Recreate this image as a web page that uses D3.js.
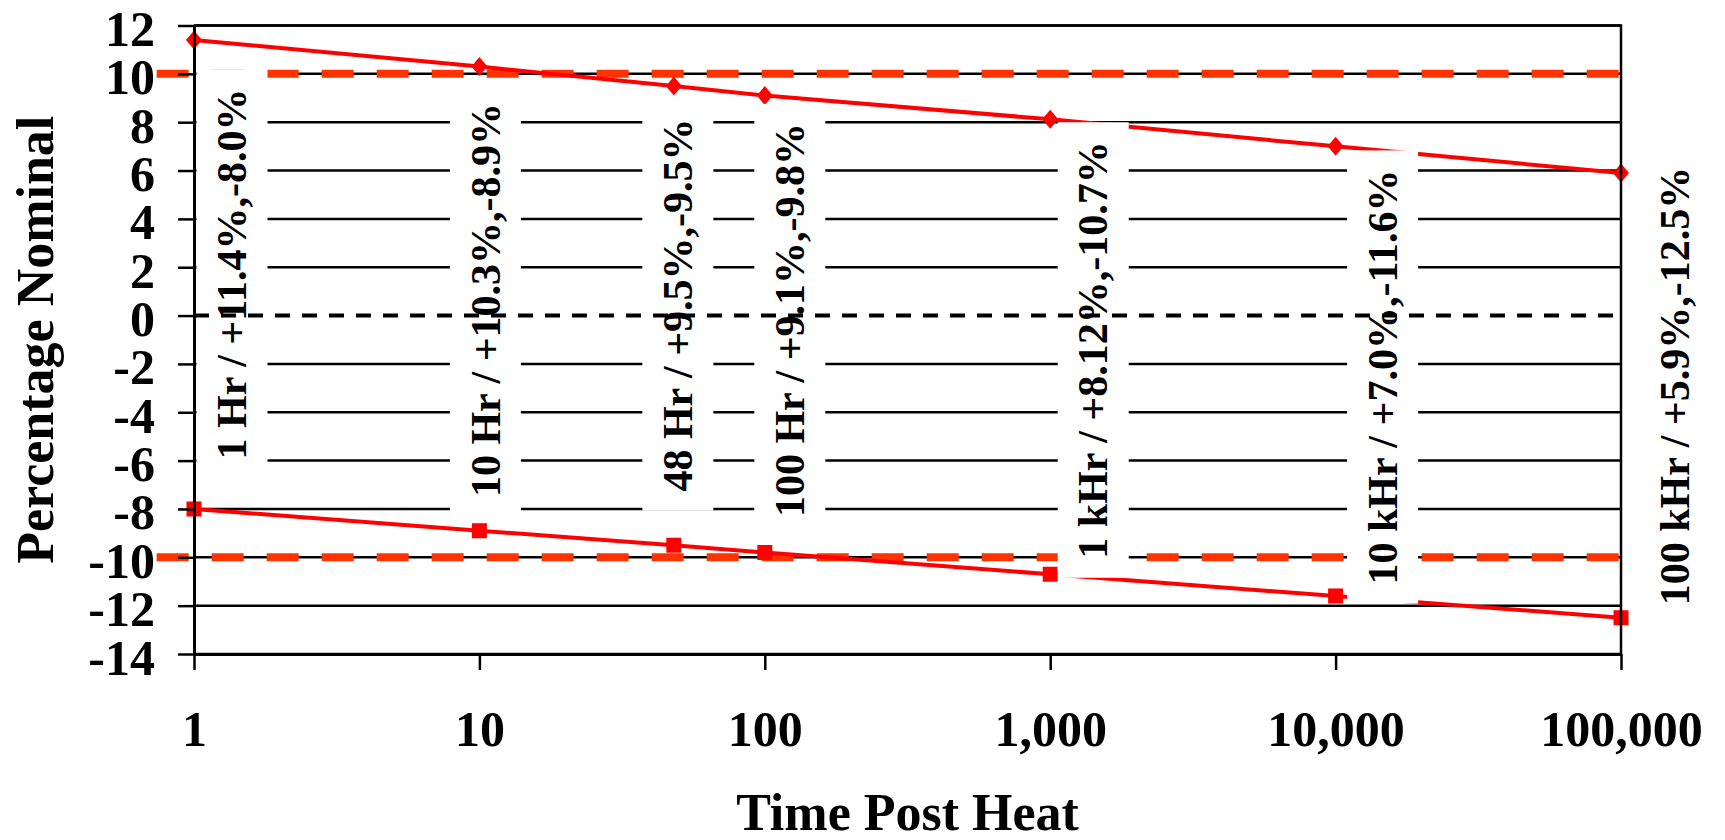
<!DOCTYPE html>
<html>
<head>
<meta charset="utf-8">
<script src="https://cdn.jsdelivr.net/npm/d3@7"></script>
<style>
  body { margin: 0; background: #fff; }
  svg text { font-family: "Liberation Serif", "Times New Roman", serif; font-weight: bold; fill: #000; }
</style>
</head>
<body>
<div id="chart"></div>
<script>
// data
const hours = [1, 10, 48, 100, 1000, 10000, 100000];
const upperPct = [11.4, 10.3, 9.5, 9.1, 8.12, 7.0, 5.9];
const lowerPct = [-8.0, -8.9, -9.5, -9.8, -10.7, -11.6, -12.5];
const pointLabels = [
  "1 Hr / +11.4%,-8.0%",
  "10 Hr / +10.3%,-8.9%",
  "48 Hr / +9.5%,-9.5%",
  "100 Hr / +9.1%,-9.8%",
  "1 kHr / +8.12%,-10.7%",
  "10 kHr / +7.0%,-11.6%",
  "100 kHr / +5.9%,-12.5%"
];
const limitPct = [10, -10];
const limitSpan = [0.74, 107000];   // hours covered by the limit lines
const yTicks = d3.range(-14, 13, 2);
const xTicks = [1, 10, 100, 1000, 10000, 100000];

// label placement (px) - labels were dragged by hand in the original
const labelDx = [38, 6, 4, 25, 43, 47, 54];
const labelCy = [274, 300, 305, 320, 350, 377, 386];

const W = 1725, H = 840;
const margin = { top: 25.5, right: 104, bottom: 186, left: 194 };

const svg = d3.select('#chart').append('svg')
  .attr('width', W)
  .attr('height', H);

const x = d3.scaleLog()
  .domain([1, 100000])
  .range([margin.left, W - margin.right]);

const y = d3.scaleLinear()
  .domain([-14, 12])
  .range([H - margin.bottom, margin.top]);

const rows = hours.map((h, i) => ({ h: h, up: upperPct[i], lo: lowerPct[i], label: pointLabels[i], i: i }));

// gridlines
svg.append('g')
  .selectAll('line')
  .data(yTicks.filter(d => d !== 0))
  .enter()
  .append('line')
  .attr('x1', x.range()[0])
  .attr('x2', x.range()[1])
  .attr('y1', d => y(d))
  .attr('y2', d => y(d))
  .attr('stroke', '#000')
  .attr('stroke-width', 2.5);

// limit lines
svg.append('g')
  .selectAll('line')
  .data(limitPct)
  .enter()
  .append('line')
  .attr('x1', x(limitSpan[0]))
  .attr('x2', x(limitSpan[1]))
  .attr('y1', d => y(d))
  .attr('y2', d => y(d))
  .attr('stroke', '#FF3300')
  .attr('stroke-width', 8)
  .attr('stroke-dasharray', '32,23');

// series lines
const line = key => d3.line().x(d => x(d.h)).y(d => y(d[key]));

svg.append('path')
  .datum(rows)
  .attr('d', line('up'))
  .attr('fill', 'none')
  .attr('stroke', '#FF0000')
  .attr('stroke-width', 4);

svg.append('path')
  .datum(rows)
  .attr('d', line('lo'))
  .attr('fill', 'none')
  .attr('stroke', '#FF0000')
  .attr('stroke-width', 4);

svg.append('g')
  .selectAll('path')
  .data(rows)
  .enter()
  .append('path')
  .attr('transform', d => 'translate(' + x(d.h) + ',' + y(d.up) + ')')
  .attr('d', 'M0,-9.5L8,0L0,9.5L-8,0Z')
  .attr('fill', '#FF0000');

svg.append('g')
  .selectAll('rect')
  .data(rows)
  .enter()
  .append('rect')
  .attr('x', d => x(d.h) - 7.5)
  .attr('y', d => y(d.lo) - 7.5)
  .attr('width', 15)
  .attr('height', 15)
  .attr('fill', '#FF0000');

// rotated data labels on white boxes
const labels = svg.append('g')
  .selectAll('g')
  .data(rows)
  .enter()
  .append('g')
  .attr('transform', d => 'translate(' + (x(d.h) + labelDx[d.i]) + ',' + labelCy[d.i] + ') rotate(-90)');

labels.append('rect').attr('fill', '#fff');

labels.append('text')
  .attr('text-anchor', 'middle')
  .attr('dy', '0.34em')
  .style('font-size', '42px')
  .text(d => d.label);

labels.each(function() {
  const g = d3.select(this);
  const len = g.select('text').node().getComputedTextLength();
  g.select('rect')
    .attr('x', -len / 2 - 19)
    .attr('y', -35.5)
    .attr('width', len + 38)
    .attr('height', 71);
});

// zero line
svg.append('line')
  .attr('x1', x.range()[0])
  .attr('x2', x.range()[1])
  .attr('y1', y(0))
  .attr('y2', y(0))
  .attr('stroke', '#000')
  .attr('stroke-width', 4)
  .attr('stroke-dasharray', '15,12');

// plot border (top + right)
svg.append('path')
  .attr('d', 'M' + x.range()[0] + ',' + y(12) + 'H' + x.range()[1] + 'V' + y(-14))
  .attr('fill', 'none')
  .attr('stroke', '#000')
  .attr('stroke-width', 2.5);

// axes
const yAxis = d3.axisLeft(y)
  .tickValues(yTicks)
  .tickFormat(d => String(d))
  .tickSize(16)
  .tickSizeOuter(0)
  .tickPadding(23);

const xAxis = d3.axisBottom(x)
  .tickValues(xTicks)
  .tickFormat(d3.format(','))
  .tickSize(16)
  .tickSizeOuter(0)
  .tickPadding(40);

const gy = svg.append('g')
  .attr('transform', 'translate(' + margin.left + ',0)')
  .call(yAxis);

const gx = svg.append('g')
  .attr('transform', 'translate(0,' + y(-14) + ')')
  .call(xAxis);

[gx, gy].forEach(g => {
  g.select('.domain').attr('stroke', '#000').attr('stroke-width', 3);
  g.selectAll('.tick line').attr('stroke', '#000').attr('stroke-width', 2.5);
  g.selectAll('.tick text')
    .style('font-size', '50px')
    .style('font-family', '"Liberation Serif", "Times New Roman", serif')
    .style('font-weight', 'bold')
    .attr('fill', '#000');
});
gy.selectAll('.tick text').attr('dy', '0.4em');

// axis titles
svg.append('text')
  .attr('transform', 'translate(53,' + ((y(12) + y(-14)) / 2) + ') rotate(-90)')
  .attr('text-anchor', 'middle')
  .style('font-size', '52px')
  .text('Percentage Nominal');

svg.append('text')
  .attr('x', (x.range()[0] + x.range()[1]) / 2)
  .attr('y', 830)
  .attr('text-anchor', 'middle')
  .style('font-size', '52px')
  .text('Time Post Heat');
</script>
</body>
</html>
